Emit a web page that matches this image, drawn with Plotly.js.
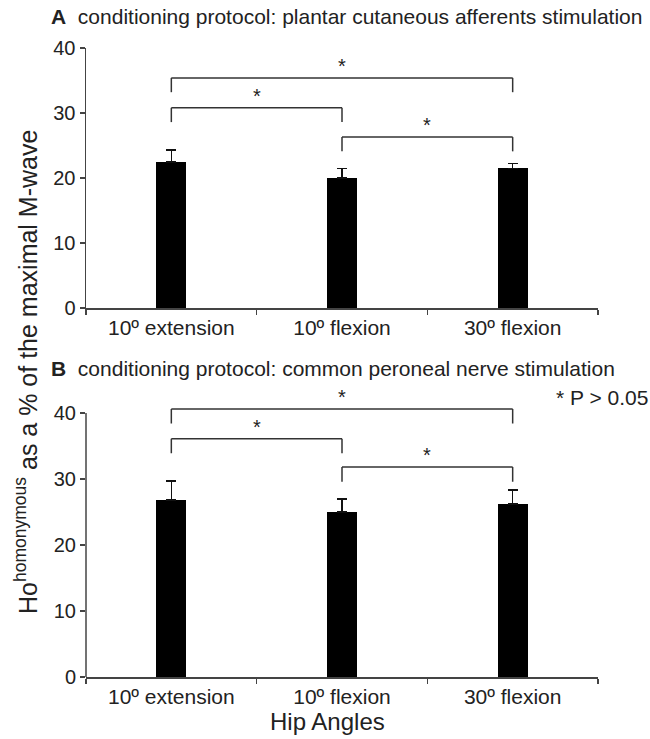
<!DOCTYPE html>
<html>
<head>
<meta charset="utf-8">
<script src="https://cdn.plot.ly/plotly-3.0.1.min.js"></script>
<style>html,body{margin:0;padding:0;background:#fff;}</style>
</head>
<body>
<div id="chart" style="width:650px;height:739px;"></div>
<script>
// ---- data ----
const categories = ['10º extension', '10º flexion', '30º flexion'];
const valuesA = [22.5, 20.0, 21.5];
const errorsA = [1.8, 1.5, 0.7];
const valuesB = [26.8, 25.0, 26.2];
const errorsB = [2.9, 2.0, 2.1];
const bracketPairs = [[0, 2], [0, 1], [1, 2]];
const bracketTopsA = [35.4, 30.8, 26.3];
const bracketTopsB = [40.6, 36.1, 31.8];
const bracketLeg = 2.2;
const yTicks = [0, 10, 20, 30, 40];
const titleA = 'conditioning protocol: plantar cutaneous afferents stimulation';
const titleB = 'conditioning protocol: common peroneal nerve stimulation';
const yTitle = 'Ho<sup>homonymous</sup> as a % of the maximal M-wave';
const xTitle = 'Hip Angles';
const sigNote = '* P > 0.05';

// ---- layout geometry ----
const W = 650, H = 739;
const FONT = 'Liberation Sans, Arial, Helvetica, sans-serif';
const TXT = '#222';
const AX = '#444';
const mL = 86, mR = 52;
const plotW = W - mL - mR;
const px2py = p => 1 - p / H;
const px2pxPaper = p => (p - mL) / plotW;

const domA = [px2py(308), px2py(48)];
const rangeA = [0, 40];
const rangeB = [0, 44];
const domB = [px2py(677), px2py(677 - 66 * 4.4)];

function errCfg(arr) {
  return {type: 'data', symmetric: false, array: arr, arrayminus: arr.map(() => 0),
          color: '#111', thickness: 1.5, width: 5, visible: true};
}

const traces = [
  {type: 'bar', x: categories, y: valuesA, xaxis: 'x', yaxis: 'y', width: 0.175,
   marker: {color: '#000', line: {width: 0}}, error_y: errCfg(errorsA), hoverinfo: 'skip'},
  {type: 'bar', x: categories, y: valuesB, xaxis: 'x2', yaxis: 'y2', width: 0.175,
   marker: {color: '#000', line: {width: 0}}, error_y: errCfg(errorsB), hoverinfo: 'skip'}
];

const shapes = [];
const annotations = [];
function addBrackets(tops, xr, yr) {
  bracketPairs.forEach((pr, k) => {
    const [i, j] = pr;
    const top = tops[k];
    const ln = {color: '#333', width: 1.5};
    shapes.push({type: 'line', xref: xr, yref: yr, x0: i, x1: i, y0: top - bracketLeg, y1: top, line: ln});
    shapes.push({type: 'line', xref: xr, yref: yr, x0: i, x1: j, y0: top, y1: top, line: ln});
    shapes.push({type: 'line', xref: xr, yref: yr, x0: j, x1: j, y0: top - bracketLeg, y1: top, line: ln});
    annotations.push({xref: xr, yref: yr, x: (i + j) / 2, y: top, text: '*', showarrow: false,
      xanchor: 'center', yanchor: 'bottom', yshift: -1, font: {family: FONT, size: 20, color: TXT}});
  });
}
addBrackets(bracketTopsA, 'x', 'y');
addBrackets(bracketTopsB, 'x2', 'y2');

// left spine for panel B (0..40 only)
const yB = v => domB[0] + (v - rangeB[0]) / (rangeB[1] - rangeB[0]) * (domB[1] - domB[0]);
shapes.push({type: 'line', xref: 'paper', yref: 'paper', x0: 0, x1: 0,
  y0: yB(0), y1: yB(40), line: {color: AX, width: 1.5}});

annotations.push(
  {xref: 'paper', yref: 'paper', x: px2pxPaper(49), y: px2py(17), xanchor: 'left', yanchor: 'middle',
   text: '<b>A</b>&nbsp; ' + titleA, showarrow: false,
   font: {family: FONT, size: 21, color: TXT}},
  {xref: 'paper', yref: 'paper', x: px2pxPaper(49), y: px2py(368), xanchor: 'left', yanchor: 'middle',
   text: '<b>B</b>&nbsp; ' + titleB, showarrow: false,
   font: {family: FONT, size: 21, color: TXT}},
  {xref: 'paper', yref: 'paper', x: px2pxPaper(554), y: px2py(397), xanchor: 'left', yanchor: 'middle',
   text: sigNote, showarrow: false, font: {family: FONT, size: 21, color: TXT}},
  {xref: 'paper', yref: 'paper', x: px2pxPaper(26), y: px2py(372), xanchor: 'center', yanchor: 'middle',
   text: yTitle, textangle: -90, showarrow: false, font: {family: FONT, size: 25, color: TXT}},
  {xref: 'paper', yref: 'paper', x: px2pxPaper(327), y: px2py(721), xanchor: 'center', yanchor: 'middle',
   text: xTitle, showarrow: false, font: {family: FONT, size: 24, color: TXT}}
);

function xAxis(anchor) {
  return {domain: [0, 1], anchor: anchor, type: 'category', range: [-0.5, 2.5],
    showline: true, linecolor: AX, linewidth: 1.5, ticks: 'outside', tickson: 'boundaries',
    ticklen: 5, tickwidth: 1.5, tickcolor: AX, showgrid: false, zeroline: false,
    tickfont: {family: FONT, size: 21, color: TXT}, fixedrange: true};
}
function yAxis(anchor, dom, rng, line) {
  return {domain: dom, anchor: anchor, range: rng, tickmode: 'array', tickvals: yTicks,
    ticktext: yTicks.map(String), showline: line, linecolor: AX, linewidth: 1.5,
    ticks: 'outside', ticklen: 5, tickwidth: 1.5, tickcolor: AX, showgrid: false, zeroline: false,
    tickfont: {family: FONT, size: 20, color: TXT}, fixedrange: true};
}

const layout = {
  width: W, height: H, margin: {l: mL, r: mR, t: 0, b: 0, pad: 0},
  paper_bgcolor: '#fff', plot_bgcolor: 'rgba(0,0,0,0)', showlegend: false, bargap: 0,
  xaxis: xAxis('y'), yaxis: yAxis('x', domA, rangeA, true),
  xaxis2: xAxis('y2'), yaxis2: yAxis('x2', domB, rangeB, false),
  shapes: shapes, annotations: annotations
};

Plotly.newPlot('chart', traces, layout, {displayModeBar: false, staticPlot: true});
</script>
</body>
</html>
